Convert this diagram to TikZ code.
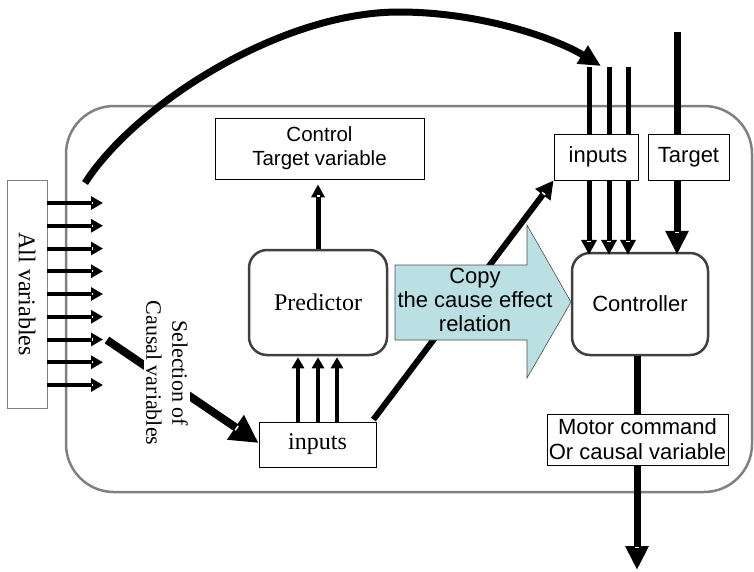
\documentclass[tikz,border=0pt]{standalone}
\usepackage{fontspec}
\setmainfont{Liberation Serif}
\newfontfamily\sansf{Liberation Sans}
\usetikzlibrary{arrows.meta,decorations.markings}
\definecolor{frame}{RGB}{128,128,128}
\definecolor{copyfill}{RGB}{186,224,228}
\begin{document}
\begin{tikzpicture}[x=1pt,y=-1pt,
  box/.style={draw=black, line width=0.8pt, fill=white, inner sep=0pt, align=center},
  rbox/.style={draw=black!75, line width=2.5pt, rounded corners=18pt, fill=white, inner sep=0pt},
  serif/.style={font=\fontsize{24}{28}\selectfont},
  sans/.style={font=\sansf\fontsize{22}{25}\selectfont},
  % small white bar across the base of an arrow head (#1 head length, #2 half bar)
  tipmark/.style 2 args={postaction={decorate, decoration={markings,
    mark=at position 1 with {\draw[white, line width=1.5pt, arrows=-] (-#1+1.5,-#2) -- (-#1+1.5,#2);}}}},
  arrsmall/.style={line width=4pt, -{Triangle[length=12pt,width=13pt]}, tipmark={12}{1.2}},
  arrmid/.style={line width=5pt, -{Triangle[length=15pt,width=15pt]}, tipmark={15}{1.6}},
  arrbig/.style={line width=7pt, -{Triangle[length=24pt,width=22pt]}, tipmark={24}{2.4}},
]
\useasboundingbox (0,0) rectangle (754,571);

% system frame
\draw[frame, line width=2.5pt, rounded corners=48pt] (66,106) rectangle (752,492);

% nodes
\node[box, rotate=-90, minimum width=228pt, minimum height=40pt, draw=black!50, serif] (allvars) at (27,294) {All variables};
\node[box, minimum width=209pt, minimum height=61pt, font=\sansf\fontsize{20.5}{24}\selectfont] (control) at (319.5,148.5) {Control\\Target variable};
\node[box, minimum width=117pt, minimum height=45pt, serif] (inB) at (317.5,444.5) {inputs};
\node[box, minimum width=84pt, minimum height=46pt, sans] (inT) at (596,157) {};
\node[box, minimum width=81pt, minimum height=46pt, sans] (target) at (688.5,157) {};
\node[box, minimum width=181pt, minimum height=51pt, sans] (motor) at (637.5,439.5) {};

% curved arrow: all variables to the controller inputs
\coordinate (cstart) at (85,183);
\coordinate (cpeak) at (399,12);
\coordinate (cend) at (601,66);
\draw[line width=7pt, -{Triangle[length=22pt,width=20pt]}, tipmark={22}{2.2}]
  (cstart) .. controls (135,105) and (280,12) .. (cpeak)
           .. controls (480,12) and (555,38) .. (cend);

% nine arrows leaving the variable box
\foreach \i in {0,...,8}{
  \coordinate (vtip\i) at (103,{203+22.75*\i});
  \draw[arrsmall] (allvars.north |- vtip\i) -- (vtip\i);
}

% selection of causal variables
\coordinate (selstart) at (107,340);
\draw[line width=8pt, -{Triangle[length=28pt,width=28pt]}, tipmark={28}{2.6}] (selstart) -- (inB.west |- 0,443);
\node[serif, font=\fontsize{22}{26}\selectfont, rotate=-90, fill=white, inner sep=2pt, align=center] (seltext) at (167,373) {Selection of\\Causal variables};

% predictor
\node[rbox, minimum width=138pt, minimum height=105pt, serif] (predictor) at (318,302.5) {Predictor};
\foreach \x in {298,318,337}
  \draw[line width=4pt, -{Triangle[length=11pt,width=12pt]}] (inB.north -| \x,0) -- ([yshift=-1pt]predictor.south -| \x,0);
\draw[line width=5pt, -{Triangle[length=13pt,width=13pt]}, tipmark={13}{1.5}] (predictor.north) -- ([yshift=-5pt]control.south -| predictor.north);

% controller
\node[rbox, minimum width=136pt, minimum height=102pt, sans] (controller) at (640,304) {Controller};

% copy of the predictor inputs to the controller
\draw[line width=6pt, -{Triangle[length=18pt,width=18pt]}, tipmark={18}{2}] (inB.north east) ++(-3,-2) -- (inT.south west);
\foreach \x [count=\k] in {589,609,628}{
  \coordinate (ctop\k) at (\x,67);
  \draw[arrmid] (ctop\k) -- ([yshift=-3pt]controller.north -| ctop\k);
}
\coordinate (tgtop) at (677,32);
\draw[arrbig] (tgtop) -- ([yshift=-3pt]controller.north -| tgtop);
\coordinate (outtip) at (637,570);
\draw[arrbig] (controller.south -| outtip) -- (outtip);

% boxes over the lines they carry
\node[box, minimum width=84pt, minimum height=46pt, sans] at (inT) {\hspace{4pt}inputs};
\node[box, minimum width=81pt, minimum height=46pt, sans] at (target) {Target};
\node[box, minimum width=181pt, minimum height=51pt, sans] at (motor) {Motor command\\Or causal variable};

% copy the cause effect relation
\filldraw[fill=copyfill, draw=black!70, line width=0.6pt]
  (395,265) -- (527,265) -- (527,225) -- (571,302) -- (527,378) -- (527,340) -- (395,340) -- cycle;
\node[sans, align=center, font=\sansf\fontsize{22}{24}\selectfont] (copy) at (475,300) {Copy\\the cause effect\\relation};
\end{tikzpicture}
\end{document}
